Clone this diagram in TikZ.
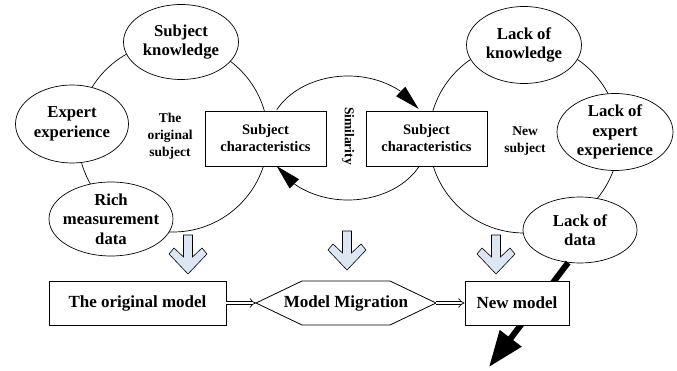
\documentclass[tikz,border=0pt]{standalone}
\usepackage{fontspec}
\setmainfont{Liberation Serif}
\usetikzlibrary{shapes.geometric, arrows.meta, bending}
\tikzstyle{pixelGrid} = [x = 1pt, y = -1pt]
\definecolor{arrowFill}{RGB}{221,231,244}
\tikzstyle{bigCircle} = [draw=black, line width=0.7pt]
\tikzstyle{bubble} = [ellipse, draw=black, fill=white, line width=0.7pt, inner sep=-5pt, align=center, font=\bfseries\fontsize{16.7}{19.5}\selectfont]
\tikzstyle{charBox} = [rectangle, draw=black, fill=white, line width=0.8pt, minimum width=121pt, minimum height=55pt, align=center, font=\bfseries\fontsize{14.5}{17}\selectfont]
\tikzstyle{subjectText} = [align=center, font=\bfseries\fontsize{13.5}{17}\selectfont]
\tikzstyle{modelBox} = [rectangle, draw=black, fill=white, line width=0.8pt, minimum height=44pt, font=\bfseries\fontsize{17}{20}\selectfont]
\tikzstyle{modelText} = [font=\bfseries\fontsize{17}{20}\selectfont]
\tikzstyle{hexagonStyle} = [draw=black, fill=white, line width=0.8pt]
\tikzstyle{similarityArrow} = [line width=0.7pt, -{Triangle[length=25pt, width=13pt]}]
\tikzstyle{doubleArrow} = [double, double distance=2.6pt, line width=0.7pt, -{Implies[length=7pt, width=13pt]}]
\tikzstyle{heavyArrow} = [line width=6pt, -{Triangle[length=36pt, width=26pt]}]
\tikzstyle{downArrowStyle} = [fill=arrowFill, draw=black, line width=0.6pt, line join=miter]
\newcommand{\downArrow}[2]{\filldraw [downArrowStyle] (#1 - 4.5, #2) -- (#1 + 4.5, #2) -- (#1 + 4.5, #2 + 22) -- (#1 + 14, #2 + 13) -- (#1 + 19, #2 + 19) -- (#1, #2 + 39) -- (#1 - 19, #2 + 19) -- (#1 - 14, #2 + 13) -- (#1 - 4.5, #2 + 22) -- cycle;}
\newcommand{\hexagonBox}[4]{\filldraw [hexagonStyle] (#1 - #3, #2) -- (#1 - #3 + #4, #2 - 22) -- (#1 + #3 - #4, #2 - 22) -- (#1 + #3, #2) -- (#1 + #3 - #4, #2 + 22) -- (#1 - #3 + #4, #2 + 22) -- cycle;}
\begin{document}
\begin{tikzpicture}[pixelGrid]
  \useasboundingbox (0,0) rectangle (677,371);
  \coordinate (leftCenter) at (173,137);
  \coordinate (rightCenter) at (524,138);
  \coordinate (simCenter) at (348,138);
  \coordinate (heavyTip) at (489,367);
  \coordinate (migrationWest) at (256,303);
  \coordinate (migrationEast) at (436,303);
  \draw [bigCircle] (leftCenter) circle [radius=95];
  \draw [bigCircle] (rightCenter) circle [radius=95];
  \draw [similarityArrow] (simCenter) ++(-153:80 and 62) arc [start angle=-153, end angle=-28, x radius=80, y radius=62];
  \draw [similarityArrow] (simCenter) ++(27:80 and 62) arc [start angle=27, end angle=153, x radius=80, y radius=62];
  \node [bubble, minimum width=115pt, minimum height=75pt] (subjKnow) at (181,42) {Subject\\knowledge};
  \node [bubble, minimum width=113pt, minimum height=78pt] (expertExp) at (72,124) {Expert\\experience};
  \node [bubble, minimum width=124pt, minimum height=74pt] (richData) at (111,219) {Rich\\measurement\\data};
  \node [bubble, minimum width=115pt, minimum height=77pt] (lackKnow) at (524,45) {Lack of\\knowledge};
  \node [bubble, minimum width=116pt, minimum height=77pt] (lackExpert) at (615,132) {Lack of\\expert\\experience};
  \node [bubble, minimum width=114pt, minimum height=66pt] (lackData) at (580,230) {Lack of\\data};
  \node [charBox] (origChar) at (265.5,138.5) {Subject\\characteristics};
  \node [charBox] (newChar) at (426.5,138.5) {Subject\\characteristics};
  \node [subjectText] (origSubject) at (170,136) {The\\original\\subject};
  \node [subjectText] (newSubject) at (525,141) {New\\subject};
  \node [subjectText, rotate=-90] (similarity) at (348,136) {Similarity};
  \draw [heavyArrow] (lackData.250) -- (heavyTip);
  \foreach \x/\y in {188/235, 347/231, 496/235} {
    \downArrow{\x}{\y}
  }
  \node [modelBox, minimum width=177pt] (origModel) at (137.5,303) {The original model};
  \hexagonBox{346}{303}{90}{46}
  \node [modelText] (migration) at (346,303) {Model Migration};
  \node [modelBox, minimum width=104pt] (newModel) at (517,303) {New model};
  \draw [doubleArrow] (origModel) -- (migrationWest);
  \draw [doubleArrow] (migrationEast) -- (newModel);
\end{tikzpicture}
\end{document}
